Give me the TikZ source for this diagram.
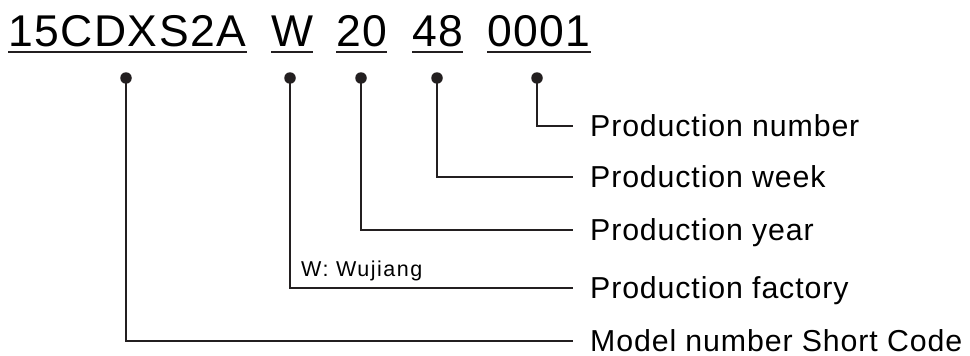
\documentclass[tikz,border=0pt]{standalone}
\usepackage{fontspec}
\setmainfont{Liberation Sans}
\definecolor{ink}{HTML}{231F20}
\begin{document}
\begin{tikzpicture}[x=1pt,y=-1pt,
  code/.style={anchor=base west,inner sep=0pt,font=\fontsize{44.5}{48}\selectfont\addfontfeature{LetterSpace=3.4}},
  uline/.style={line width=2pt,draw=ink},
  dotmark/.style={circle,fill=ink,minimum size=11.5pt,inner sep=0pt},
  conn/.style={line width=1.3pt,draw=ink},
  lab/.style={anchor=west,inner sep=0pt,text height=21.5pt,text depth=0pt,font=\fontsize{30.3}{34}\selectfont\addfontfeature{LetterSpace=2.9}},
  note/.style={anchor=base west,inner sep=0pt,font=\fontsize{21.5}{24}\selectfont\addfontfeature{LetterSpace=7}}]
\useasboundingbox (0,0) rectangle (970,356);
% code parts
\node[code] (c1) at (8,46.7) {15CDXS2A};
\node[code] (c2) at (271,46.7) {W};
\node[code] (c3) at (336,46.7) {20};
\node[code] (c4) at (412,46.7) {48};
\node[code] (c5) at (487,46.7) {0001};
\foreach \i in {1,...,5}{
  \draw[uline] ([yshift=-5pt]c\i.base west) -- ([yshift=-5pt]c\i.base east);
}
% dots
\node[dotmark] (d1) at (126,78) {};
\node[dotmark] (d2) at (290,78) {};
\node[dotmark] (d3) at (361,78) {};
\node[dotmark] (d4) at (437,78) {};
\node[dotmark] (d5) at (537,78) {};
% labels
\node[lab] (l5) at (590,126) {Production number};
\node[lab] (l4) at (590,177) {Production week};
\node[lab] (l3) at (590,230) {Production year};
\node[lab] (l2) at (590,288) {Production factory};
\node[lab] (l1) at (590,341) {Model number Short Code};
\node[note] (w) at (301,276) {W: Wujiang};
% connectors
\foreach \i in {1,...,5}{
  \draw[conn] (d\i.center) |- ([xshift=-17pt]l\i.west);
}
\end{tikzpicture}
\end{document}
